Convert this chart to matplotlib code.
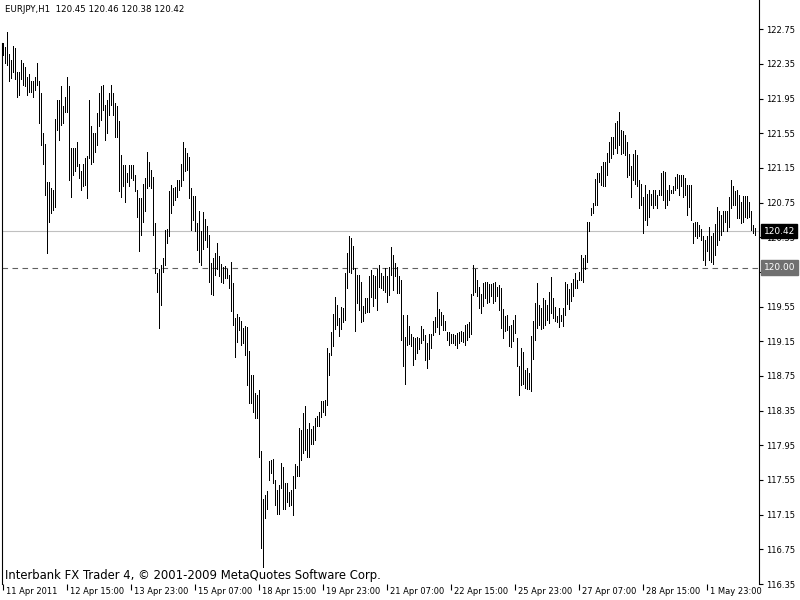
import matplotlib
matplotlib.use('Agg')
import matplotlib.pyplot as plt
import matplotlib.transforms as mtransforms
import numpy as np

symbol = 'EURJPY,H1'
last_ohlc = [120.45, 120.46, 120.38, 120.42]
bid_price = 120.42
level_price = 120.00

# hourly highs / lows, oldest first
hi = [122.59, 122.55, 122.72, 122.47, 122.40, 122.56, 122.53, 122.26, 122.26, 122.40,
      122.36, 122.32, 122.20, 122.23, 122.15, 122.15, 122.20, 122.36, 122.15, 122.01,
      121.55, 121.43, 120.99, 120.99, 120.92, 120.90, 121.72, 121.93, 121.93, 122.09,
      121.86, 121.97, 122.20, 122.09, 121.38, 121.38, 121.38, 121.45, 121.20, 121.11,
      121.20, 121.26, 121.29, 121.93, 121.63, 121.55, 121.55, 121.79, 122.01, 122.09,
      122.11, 121.88, 121.93, 122.01, 122.11, 122.01, 121.90, 121.86, 121.69, 121.30,
      121.19, 121.18, 121.09, 121.18, 121.18, 121.18, 121.07, 120.90, 120.80, 120.80,
      120.97, 121.03, 121.34, 121.22, 121.13, 121.05, 120.51, 119.94, 119.99, 120.03,
      120.11, 120.43, 120.45, 120.89, 120.95, 120.92, 120.93, 121.01, 121.01, 121.20,
      121.45, 121.38, 121.32, 121.28, 120.92, 120.83, 120.83, 120.51, 120.65, 120.42,
      120.64, 120.56, 120.48, 120.38, 120.05, 120.11, 120.17, 120.28, 120.14, 120.04,
      120.01, 120.02, 119.99, 119.92, 120.06, 119.82, 119.42, 119.47, 119.43, 119.38,
      119.30, 119.33, 119.32, 119.04, 118.76, 118.76, 118.55, 118.53, 118.59, 117.88,
      117.33, 117.38, 117.42, 117.77, 117.78, 117.79, 117.55, 117.44, 117.49, 117.75,
      117.70, 117.51, 117.51, 117.41, 117.44, 117.60, 117.74, 117.71, 118.15, 118.13,
      118.32, 118.40, 118.14, 118.21, 118.14, 118.17, 118.27, 118.29, 118.34, 118.46,
      118.46, 118.47, 119.07, 119.01, 119.26, 119.47, 119.66, 119.57, 119.42, 119.55,
      119.54, 119.94, 120.17, 120.36, 120.34, 120.25, 120.00, 119.92, 119.92, 119.84,
      119.56, 119.65, 119.65, 119.90, 119.97, 119.92, 119.90, 119.99, 120.03, 119.94,
      119.90, 120.00, 119.90, 120.01, 120.24, 120.15, 120.05, 120.01, 119.90, 119.86,
      119.45, 119.20, 119.45, 119.33, 119.24, 119.20, 119.19, 119.20, 119.19, 119.33,
      119.29, 119.22, 119.13, 119.24, 119.24, 119.39, 119.43, 119.72, 119.52, 119.49,
      119.45, 119.38, 119.26, 119.26, 119.24, 119.24, 119.22, 119.25, 119.26, 119.27,
      119.26, 119.34, 119.35, 119.37, 119.70, 120.03, 119.98, 119.86, 119.78, 119.70,
      119.82, 119.84, 119.84, 119.81, 119.81, 119.82, 119.84, 119.78, 119.80, 119.77,
      119.52, 119.44, 119.45, 119.33, 119.34, 119.40, 119.45, 119.19, 118.87, 119.07,
      119.03, 118.82, 118.84, 118.79, 119.21, 119.38, 119.59, 119.82, 119.57, 119.53,
      119.65, 119.63, 119.57, 119.72, 119.89, 119.65, 119.55, 119.44, 119.54, 119.45,
      119.53, 119.84, 119.81, 119.75, 119.82, 119.87, 119.94, 119.86, 119.95, 120.15,
      120.11, 120.15, 120.53, 120.53, 120.69, 120.75, 121.02, 121.09, 121.09, 121.17,
      121.22, 121.22, 121.32, 121.45, 121.51, 121.51, 121.67, 121.69, 121.80, 121.59,
      121.58, 121.53, 121.45, 121.31, 121.17, 121.31, 121.36, 121.30, 121.01, 120.97,
      120.81, 120.95, 120.85, 120.90, 120.85, 120.90, 120.90, 120.84, 120.90, 121.09,
      121.11, 121.10, 120.90, 120.95, 120.90, 120.94, 121.05, 121.08, 121.07, 121.07,
      121.07, 121.03, 120.95, 120.95, 120.95, 120.51, 120.53, 120.53, 120.49, 120.45,
      120.36, 120.32, 120.36, 120.47, 120.36, 120.40, 120.50, 120.70, 120.65, 120.61,
      120.65, 120.65, 120.65, 120.82, 121.01, 120.94, 120.89, 120.90, 120.84, 120.76,
      120.83, 120.83, 120.83, 120.76, 120.65, 120.49, 120.46]
lo = [122.45, 122.36, 122.34, 122.15, 122.19, 122.26, 122.18, 121.97, 121.99, 122.18,
      122.11, 122.09, 121.99, 122.03, 122.03, 121.97, 122.05, 122.11, 121.67, 121.42,
      121.20, 120.84, 120.17, 120.53, 120.63, 120.67, 120.70, 121.59, 121.47, 121.65,
      121.67, 121.80, 121.80, 121.01, 120.82, 121.07, 121.11, 121.17, 121.03, 120.90,
      120.94, 120.95, 120.80, 121.26, 121.20, 121.22, 121.34, 121.42, 121.63, 121.70,
      121.82, 121.47, 121.55, 121.76, 121.88, 121.76, 121.51, 121.51, 120.88, 120.82,
      120.94, 120.76, 120.99, 120.94, 121.03, 121.01, 120.88, 120.59, 120.19, 120.38,
      120.53, 120.65, 120.92, 120.94, 120.92, 120.38, 119.94, 119.72, 119.30, 119.57,
      119.95, 120.03, 120.28, 120.36, 120.63, 120.72, 120.78, 120.82, 120.90, 120.94,
      121.01, 121.11, 121.13, 120.80, 120.44, 120.55, 120.42, 120.20, 120.07, 120.03,
      120.22, 120.32, 120.24, 119.84, 119.70, 119.69, 119.92, 119.99, 119.90, 119.83,
      119.82, 119.88, 119.88, 119.76, 119.50, 119.34, 118.97, 119.14, 119.28, 119.11,
      119.13, 118.99, 118.65, 118.44, 118.44, 118.34, 118.27, 118.26, 117.81, 116.77,
      116.55, 117.11, 117.21, 117.55, 117.63, 117.51, 117.26, 117.16, 117.16, 117.46,
      117.21, 117.22, 117.30, 117.25, 117.26, 117.15, 117.46, 117.60, 117.60, 117.78,
      117.86, 117.90, 117.81, 117.82, 117.96, 117.97, 118.01, 118.17, 118.17, 118.28,
      118.34, 118.30, 118.42, 118.76, 118.99, 119.10, 119.29, 119.34, 119.21, 119.29,
      119.37, 119.40, 119.77, 119.95, 119.94, 119.99, 119.27, 119.59, 119.51, 119.37,
      119.38, 119.48, 119.49, 119.49, 119.66, 119.56, 119.65, 119.51, 119.78, 119.76,
      119.74, 119.72, 119.60, 119.69, 119.92, 119.74, 119.90, 119.71, 119.71, 119.17,
      118.87, 118.66, 119.11, 119.12, 119.10, 118.88, 118.95, 119.02, 119.06, 119.13,
      119.17, 118.94, 118.84, 118.95, 119.07, 119.22, 119.26, 119.32, 119.24, 119.34,
      119.28, 119.28, 119.17, 119.11, 119.13, 119.13, 119.11, 119.07, 119.13, 119.15,
      119.14, 119.11, 119.16, 119.20, 119.24, 119.69, 119.72, 119.67, 119.53, 119.48,
      119.56, 119.65, 119.59, 119.60, 119.67, 119.59, 119.62, 119.67, 119.51, 119.30,
      119.19, 119.27, 119.28, 119.10, 119.08, 119.15, 119.25, 118.86, 118.53, 118.65,
      118.66, 118.61, 118.60, 118.60, 118.58, 118.95, 119.17, 119.30, 119.34, 119.29,
      119.30, 119.34, 119.40, 119.36, 119.48, 119.42, 119.39, 119.37, 119.32, 119.38,
      119.33, 119.45, 119.58, 119.52, 119.62, 119.67, 119.76, 119.77, 119.86, 119.86,
      119.84, 119.98, 120.07, 120.42, 120.61, 120.63, 120.72, 120.72, 120.99, 120.95,
      120.94, 120.94, 121.07, 121.22, 121.26, 121.31, 121.38, 121.32, 121.42, 121.31,
      121.32, 121.30, 121.05, 121.07, 120.82, 121.01, 120.97, 120.94, 120.69, 120.72,
      120.40, 120.55, 120.49, 120.59, 120.72, 120.69, 120.72, 120.69, 120.84, 120.84,
      120.78, 120.69, 120.72, 120.78, 120.86, 120.86, 120.90, 120.92, 120.84, 120.94,
      120.82, 120.84, 120.61, 120.70, 120.55, 120.28, 120.36, 120.34, 120.36, 120.32,
      120.09, 120.03, 120.19, 120.09, 120.07, 120.04, 120.15, 120.26, 120.32, 120.38,
      120.42, 120.53, 120.42, 120.47, 120.69, 120.72, 120.72, 120.57, 120.57, 120.51,
      120.53, 120.59, 120.57, 120.59, 120.44, 120.40, 120.38]

time_labels = ['11 Apr 2011', '12 Apr 15:00', '13 Apr 23:00', '15 Apr 07:00',
               '18 Apr 15:00', '19 Apr 23:00', '21 Apr 07:00', '22 Apr 15:00',
               '25 Apr 23:00', '27 Apr 07:00', '28 Apr 15:00', '1 May 23:00']
label_step = 32
price_ticks = np.round(np.arange(116.35, 122.76, 0.40), 2)

fig = plt.figure(figsize=(8, 6), dpi=100)
fig.patch.set_facecolor('white')
ax = fig.add_axes([2 / 800, 16 / 600, 757 / 800, 584 / 600])

x = np.arange(len(hi))
ax.vlines(x, lo, hi, color='black', linewidth=0.6, antialiased=False, zorder=3)

ax.axhline(bid_price, color='#c0c0c0', linewidth=0.8, zorder=2)
ax.axhline(level_price, color='#606060', linewidth=0.8, linestyle=(0, (5, 4)), zorder=2)

ax.set_xlim(-0.5, 378)
ax.set_ylim(116.352, 123.088)

for s in ['top', 'bottom']:
    ax.spines[s].set_visible(False)
ax.spines['right'].set_color('black')
ax.spines['left'].set_color('black')
ax.spines['left'].set_bounds(116.352, hi[0])

# price scale on the right; the label under the 120.00 box is covered anyway
ax.yaxis.tick_right()
ax.set_yticks(price_ticks)
ax.set_yticklabels(['' if abs(p - level_price) < 0.1 else '%.2f' % p
                    for p in price_ticks])
ax.tick_params(axis='y', direction='out', length=3, width=0.8, pad=2, labelsize=6)

# time scale: tick marks with labels to the right of them
ticks = np.arange(len(time_labels)) * label_step
ax.set_xticks(ticks)
ax.set_xticklabels([])
ax.tick_params(axis='x', direction='out', length=4, width=0.8)
for t, lab in zip(ticks, time_labels):
    ax.annotate(lab, xy=(t, 0), xycoords=('data', 'axes fraction'),
                xytext=(2, -5.5), textcoords='offset points',
                ha='left', va='center', fontsize=6)

# price boxes
trans = mtransforms.blended_transform_factory(ax.transAxes, ax.transData)
ax.text(1.006, bid_price, '%.2f' % bid_price, transform=trans, fontsize=6.5,
        color='white', va='center', ha='left', zorder=6, clip_on=False,
        bbox=dict(boxstyle='square,pad=0.25', fc='black', ec='black'))
ax.text(1.006, level_price, '%.2f' % level_price, transform=trans, fontsize=6.5,
        color='white', va='center', ha='left', zorder=6, clip_on=False,
        bbox=dict(boxstyle='square,pad=0.3', fc='#707070', ec='#707070'))

fig.text(5 / 800, 1 - 10 / 600,
         symbol + '  ' + ' '.join('%.2f' % v for v in last_ohlc),
         fontsize=6.2, va='center', ha='left')
fig.text(5 / 800, 1 - 576 / 600,
         'Interbank FX Trader 4, \u00a9 2001-2009 MetaQuotes Software Corp.',
         fontsize=8.4, va='center', ha='left')

fig.savefig('out.png', dpi=100)
